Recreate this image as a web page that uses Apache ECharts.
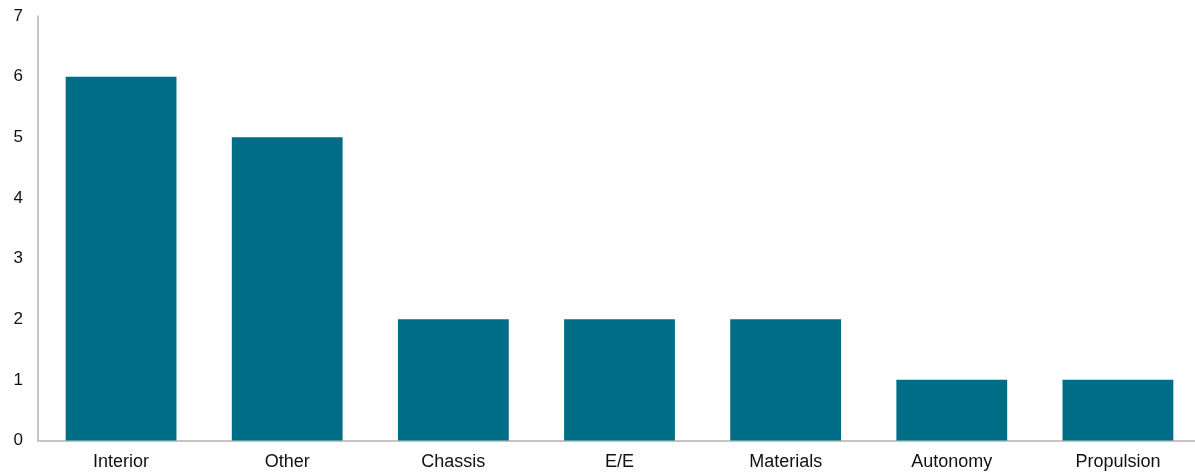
<!DOCTYPE html>
<html>
<head>
<meta charset="utf-8">
<script src="https://cdn.jsdelivr.net/npm/echarts@6/dist/echarts.min.js"></script>
<style>
  html, body { margin: 0; padding: 0; background: #fff; overflow: hidden; }
  /* plot area runs a few pixels past the right edge of the window */
  #chart { width: 1202px; height: 472px; }
</style>
</head>
<body>
<div id="chart"></div>
<script>
// Count per category
const categories = ['Interior', 'Other', 'Chassis', 'E/E', 'Materials', 'Autonomy', 'Propulsion'];
const counts = [6, 5, 2, 2, 2, 1, 1];

const chart = echarts.init(document.getElementById('chart'));
chart.setOption({
  animation: false,
  grid: { left: 38, top: 16, right: 1, bottom: 31.5, containLabel: false },
  xAxis: {
    type: 'category',
    data: categories,
    axisLine: { lineStyle: { color: '#b3b3b3', width: 1.5 } },
    axisTick: { show: false },
    axisLabel: { color: '#111', fontFamily: 'Liberation Sans, Arial, sans-serif', fontSize: 18, margin: 13 }
  },
  yAxis: {
    type: 'value',
    min: 0, max: 7, interval: 1,
    axisLine: { show: true, lineStyle: { color: '#b3b3b3', width: 1.5 } },
    axisTick: { show: false },
    splitLine: { show: false },
    axisLabel: { color: '#111', fontFamily: 'Liberation Sans, Arial, sans-serif', fontSize: 17, margin: 15 }
  },
  series: [{
    type: 'bar',
    data: counts,
    barWidth: '66.7%',
    itemStyle: { color: '#006d87' }
  }]
});
</script>
</body>
</html>
